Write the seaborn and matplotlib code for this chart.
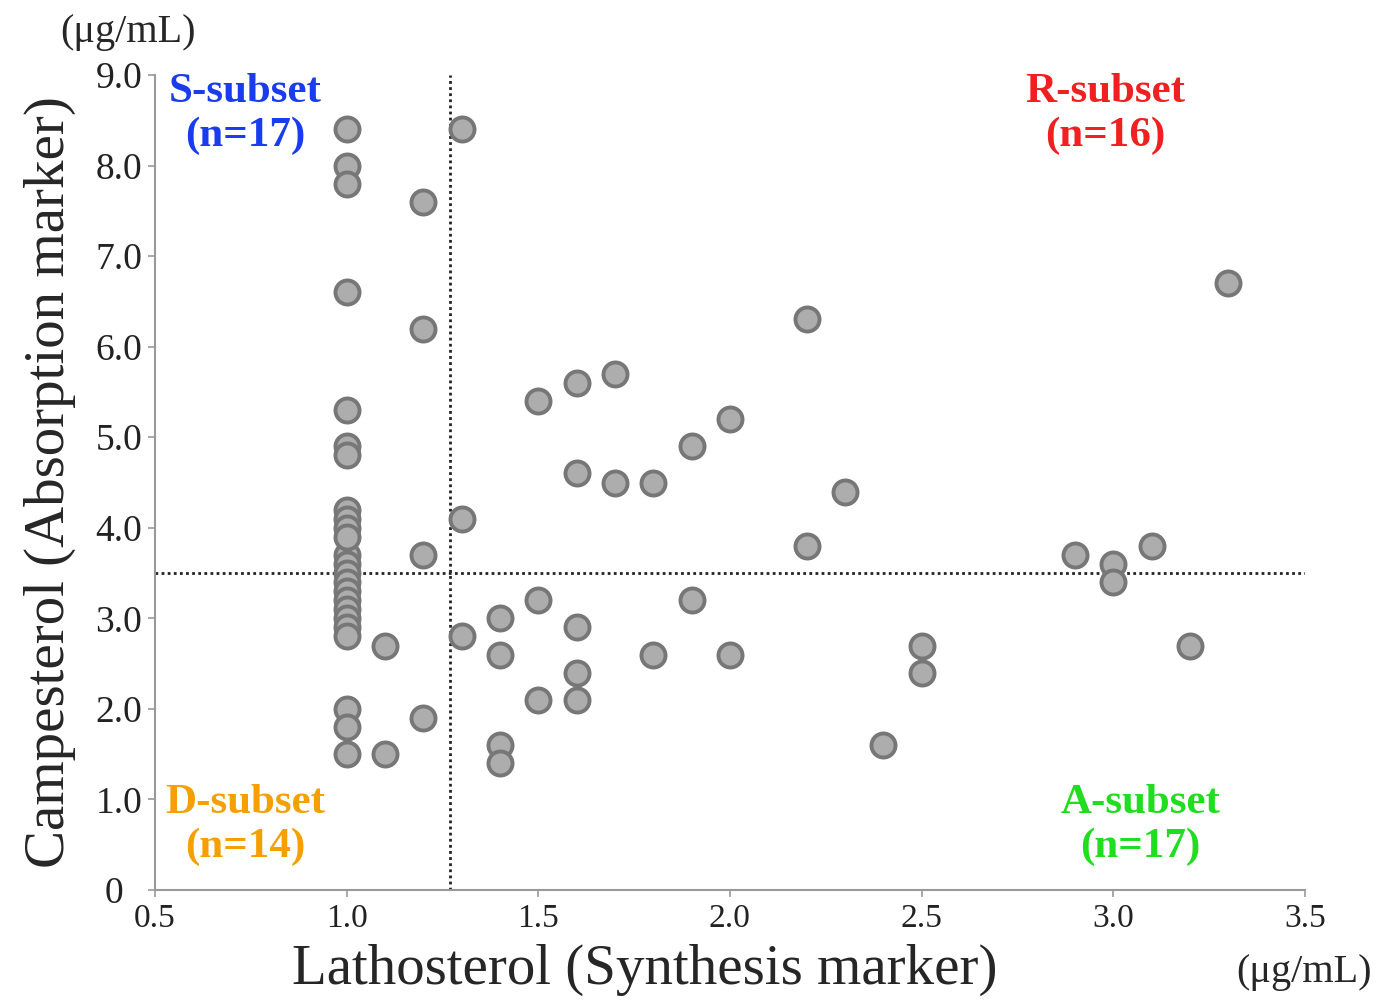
import matplotlib
matplotlib.use("Agg")
import matplotlib.pyplot as plt
import seaborn as sns
import pandas as pd

# Lathosterol (x) and campesterol (y) values, ug/mL
lathosterol = [
    1.0, 1.0, 1.0, 1.0, 1.0, 1.0, 1.0, 1.0, 1.0, 1.0, 1.0, 1.0, 1.0, 1.0,
    1.0, 1.0, 1.0, 1.0, 1.0, 1.0, 1.0, 1.0, 1.0, 1.0,
    1.1, 1.1,
    1.2, 1.2, 1.2, 1.2,
    1.3, 1.3, 1.3,
    1.4, 1.4, 1.4, 1.4,
    1.5, 1.5, 1.5,
    1.6, 1.6, 1.6, 1.6, 1.6,
    1.7, 1.7,
    1.8, 1.8,
    1.9, 1.9,
    2.0, 2.0,
    2.2, 2.2,
    2.3,
    2.4,
    2.5, 2.5,
    2.9,
    3.0, 3.0,
    3.1,
    3.2,
    3.3,
]
campesterol = [
    8.4, 8.0, 7.8, 6.6, 5.3, 4.9, 4.8, 4.2, 4.1, 4.0, 3.7, 3.6, 3.5, 3.4,
    3.3, 3.2, 3.1, 3.0, 2.9, 2.8, 2.0, 1.8, 1.5, 3.9,
    2.7, 1.5,
    7.6, 6.2, 3.7, 1.9,
    8.4, 4.1, 2.8,
    3.0, 2.6, 1.6, 1.4,
    5.4, 3.2, 2.1,
    5.6, 4.6, 2.9, 2.4, 2.1,
    5.7, 4.5,
    4.5, 2.6,
    4.9, 3.2,
    5.2, 2.6,
    6.3, 3.8,
    4.4,
    1.6,
    2.7, 2.4,
    3.7,
    3.6, 3.4,
    3.8,
    2.7,
    6.7,
]

x_cut = 1.27
y_cut = 3.5

subset_names = ["S-subset\n(n=17)", "R-subset\n(n=16)", "D-subset\n(n=14)", "A-subset\n(n=17)"]
subset_colors = ["#1a3cf0", "#f02020", "#f5a000", "#20dd20"]

df = pd.DataFrame({"Lathosterol": lathosterol, "Campesterol": campesterol})

sns.set_style("ticks")
plt.rcParams["font.family"] = ["Liberation Serif", "DejaVu Serif"]

fig = plt.figure(figsize=(13.95, 10.05), dpi=100)
ax = fig.add_axes([0.111, 0.1144, 0.8245, 0.811])

sns.scatterplot(data=df, x="Lathosterol", y="Campesterol", ax=ax,
                s=300, color="#adadad", edgecolor="#777777", linewidth=2.8,
                zorder=3)

ax.axvline(x_cut, color="#222222", linestyle=(0, (1, 1.2)), linewidth=2, zorder=2)
ax.axhline(y_cut, color="#222222", linestyle=(0, (1, 1.2)), linewidth=2, zorder=2)

ax.set_xlim(0.5, 3.5)
ax.set_ylim(0, 9.0)
ax.set_xticks([0.5, 1.0, 1.5, 2.0, 2.5, 3.0, 3.5])
ax.set_xticklabels(["0.5", "1.0", "1.5", "2.0", "2.5", "3.0", "3.5"])
ax.set_yticks(range(0, 10))
ax.set_yticklabels(["0  "] + [f"{v:.1f}" for v in range(1, 10)])
ax.tick_params(length=5, width=1.2, color="#999999", labelcolor="#222222")
ax.tick_params(axis="x", labelsize=24, pad=5)
ax.tick_params(axis="y", labelsize=27, pad=4)

sns.despine(ax=ax)
for side in ["left", "bottom"]:
    ax.spines[side].set_color("#999999")
    ax.spines[side].set_linewidth(1.5)

ax.set_xlabel("Lathosterol (Synthesis marker)", fontsize=41, labelpad=4)
ax.xaxis.set_label_coords(0.426, -0.066, transform=ax.transAxes)
ax.xaxis.label.set_va("top")
ax.set_ylabel("Campesterol (Absorption marker)", fontsize=41, labelpad=14)

fig.text(0.092, 0.968, "(\u03bcg/mL)", fontsize=29, ha="center", va="center")
fig.text(0.935, 0.032, "(\u03bcg/mL)", fontsize=29, ha="center", va="center")

# quadrant labels
label_pos = [(0.735, 8.57), (2.98, 8.57), (0.735, 0.72), (3.07, 0.72)]
for name, col, (lx, ly) in zip(subset_names, subset_colors, label_pos):
    ax.text(lx, ly, name, color=col, fontsize=31, fontweight="bold",
            ha="center", va="center", linespacing=1.2)

fig.savefig("out.png", dpi=100)
